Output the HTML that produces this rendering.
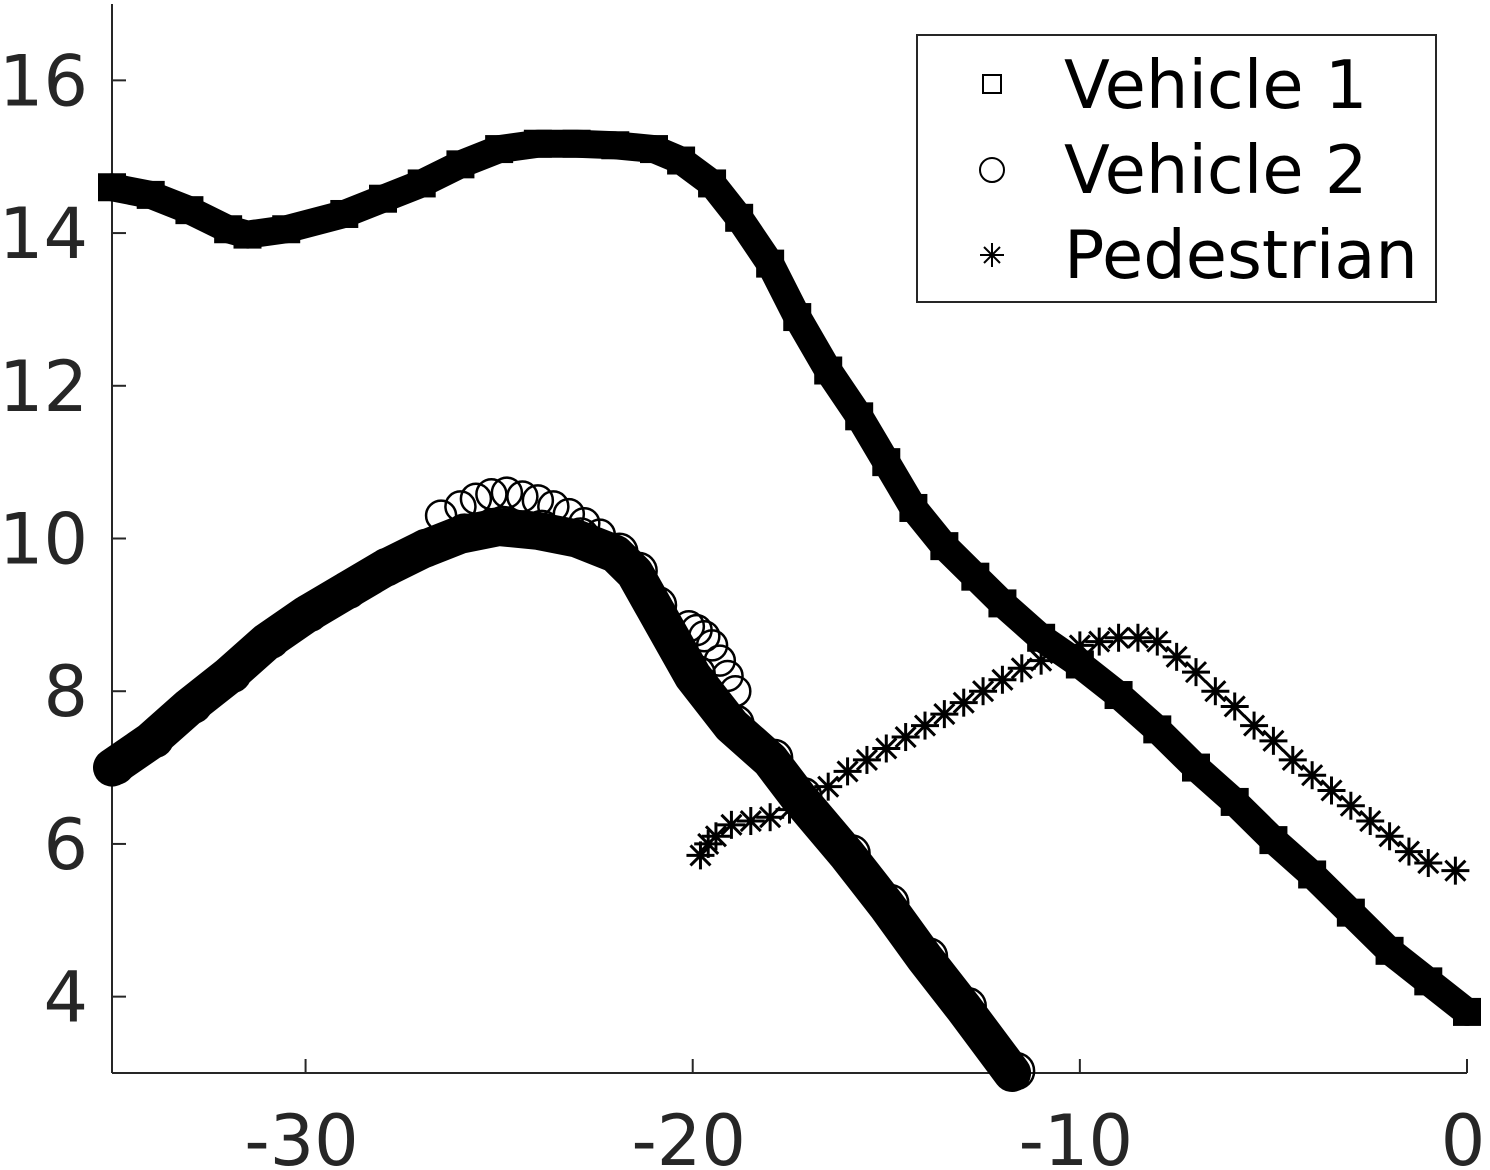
<!DOCTYPE html>
<html><head><meta charset="utf-8">
<style>
html,body{margin:0;padding:0;background:#fff;}
svg{display:block;font-family:"DejaVu Sans","Liberation Sans",sans-serif;}
</style></head>
<body>
<svg id="chart" width="1490" height="1170" viewBox="0 0 1490 1170" xmlns="http://www.w3.org/2000/svg">
<g id="axes"></g>
<g id="series"></g>
<g id="legend">
  <rect x="917" y="35" width="519" height="267" fill="#fff" stroke="#262626" stroke-width="2"/>
  <rect x="983" y="75" width="18" height="18" fill="none" stroke="#000" stroke-width="2"/>
  <text x="1064" y="108" font-size="67" fill="#000">Vehicle 1</text>
  <circle cx="992" cy="170" r="12" fill="none" stroke="#000" stroke-width="2"/>
  <text x="1064" y="193" font-size="67" fill="#000">Vehicle 2</text>
  <g stroke="#000" stroke-width="2">
    <line x1="992" y1="243" x2="992" y2="267"/><line x1="980" y1="255" x2="1004" y2="255"/>
    <line x1="984" y1="247" x2="1000" y2="263"/><line x1="984" y1="263" x2="1000" y2="247"/>
  </g>
  <text x="1064" y="278" font-size="67" fill="#000">Pedestrian</text>
</g>
</svg>
<script>
const xTicks = [-30, -20, -10, 0];
const yTicks = [4, 6, 8, 10, 12, 14, 16];
const v1X = [-35,-34,-33,-32,-31.5,-30.5,-29,-28,-27,-26,-25,-24,-23,-22,-21,-20.3,-19.5,-18.8,-18,-17.3,-16.5,-15.7,-15,-14.3,-13.5,-12.7,-12,-11,-10,-9,-8,-7,-6,-5,-4,-3,-2,-1,0];
const v1Y = [14.6,14.5,14.3,14.05,13.98,14.05,14.25,14.45,14.65,14.9,15.1,15.17,15.17,15.15,15.1,14.95,14.65,14.2,13.6,12.9,12.2,11.6,11,10.4,9.9,9.5,9.15,8.7,8.35,7.95,7.5,7.0,6.55,6.05,5.6,5.1,4.6,4.2,3.8];
const v2X = [-35,-34,-33,-32,-31,-30,-29,-28,-27,-26,-25,-24,-23,-22,-21.5,-21,-20,-19,-18,-17.25,-16,-15,-14,-13,-11.75];
const v2Y = [7.0,7.35,7.8,8.2,8.65,9.0,9.3,9.6,9.85,10.05,10.15,10.1,10.0,9.8,9.55,9.1,8.2,7.55,7.1,6.6,5.85,5.2,4.5,3.85,3.0];
const v2OutX = [-26.5,-26,-25.6,-25.2,-24.8,-24.4,-24,-23.6,-23.2,-22.8,-22.4,-20.1,-19.9,-19.7,-19.5,-19.3,-19.1,-18.9];
const v2OutY = [10.3,10.42,10.52,10.58,10.6,10.55,10.5,10.42,10.32,10.2,10.05,8.85,8.8,8.72,8.6,8.4,8.2,8.0];
const pedX = [-19.8,-19.6,-19.4,-19,-18.5,-18,-17.5,-17,-16.5,-16,-15.5,-15,-14.5,-14,-13.5,-13,-12.5,-12,-11.5,-11,-10.5,-10,-9.5,-9,-8.5,-8,-7.5,-7,-6.5,-6,-5.5,-5,-4.5,-4,-3.5,-3,-2.5,-2,-1.5,-1,-0.3];
const pedY = [5.85,6.0,6.1,6.25,6.3,6.35,6.45,6.6,6.75,6.95,7.1,7.25,7.4,7.55,7.7,7.85,8.0,8.15,8.3,8.4,8.5,8.6,8.65,8.7,8.7,8.65,8.45,8.25,8.0,7.8,7.55,7.35,7.1,6.9,6.7,6.5,6.3,6.1,5.9,5.75,5.65];

const NS = "http://www.w3.org/2000/svg";
const X0 = 112, X1 = 1467, Y0 = 1073, Y1 = 4;
const sx = v => X0 + (v + 35) / 35 * (X1 - X0);
const sy = v => Y0 - (v - 3) / 14 * (Y0 - Y1);
function mk(tag, attrs, parent) {
  const e = document.createElementNS(NS, tag);
  for (const k in attrs) e.setAttribute(k, attrs[k]);
  parent.appendChild(e);
  return e;
}
const axes = document.getElementById('axes');
const series = document.getElementById('series');

const xAxis = mk('line', {x1: X0, y1: Y0, x2: X1, y2: Y0, stroke: '#262626', 'stroke-width': 2}, axes);


const yAxis = mk('line', {x1: X0, y1: Y0, x2: X0, y2: Y1, stroke: '#262626', 'stroke-width': 2}, axes);



xTicks.forEach(t => {
  const x = sx(t);
  const tk = mk('line', {x1: x, y1: Y0, x2: x, y2: Y0 - 14, stroke: '#262626', 'stroke-width': 2}, axes);
  
  
  const lb = mk('text', {x: x - 4, y: 1165, 'font-size': 70, fill: '#262626', 'text-anchor': 'middle'}, axes);
  lb.textContent = String(t);
  
  
});
yTicks.forEach(t => {
  const y = sy(t);
  const tk = mk('line', {x1: X0, y1: y, x2: X0 + 14, y2: y, stroke: '#262626', 'stroke-width': 2}, axes);
  
  
  const lb = mk('text', {x: 88, y: y + 25, 'font-size': 70, fill: '#262626', 'text-anchor': 'end'}, axes);
  lb.textContent = String(t);
  
  
});

function band(xs, ys, w, name) {
  const pts = xs.map((x, i) => sx(x) + ',' + sy(ys[i])).join(' ');
  const p = mk('polyline', {points: pts, fill: 'none', stroke: '#000', 'stroke-width': w, 'stroke-linejoin': 'round', 'stroke-linecap': 'round'}, series);
  
  
}

// Vehicle 1
band(v1X, v1Y, 28, 'vehicle-1-track');
v1X.forEach((x, i) => {
  const r = mk('rect', {x: sx(x) - 13, y: sy(v1Y[i]) - 13, width: 26, height: 26, fill: '#000', stroke: '#000', 'stroke-width': 2}, series);
  
  
});

// Vehicle 2
band(v2X, v2Y, 38, 'vehicle-2-track');
v2X.forEach((x, i) => {
  const c = mk('circle', {cx: sx(x) + 4, cy: sy(v2Y[i]) - 2, r: 18, fill: 'none', stroke: '#000', 'stroke-width': 2.5}, series);
  
  
});
v2OutX.forEach((x, i) => {
  const c = mk('circle', {cx: sx(x), cy: sy(v2OutY[i]), r: 15, fill: 'none', stroke: '#000', 'stroke-width': 2.5}, series);
  
  
});

// Pedestrian
pedX.forEach((x, i) => {
  const cx = sx(x), cy = sy(pedY[i]);
  const g = mk('g', {stroke: '#000', 'stroke-width': 3}, series);
  
  
  mk('line', {x1: cx, y1: cy - 14, x2: cx, y2: cy + 14}, g);
  mk('line', {x1: cx - 14, y1: cy, x2: cx + 14, y2: cy}, g);
  mk('line', {x1: cx - 10, y1: cy - 10, x2: cx + 10, y2: cy + 10}, g);
  mk('line', {x1: cx - 10, y1: cy + 10, x2: cx + 10, y2: cy - 10}, g);
});
</script>
</body></html>
